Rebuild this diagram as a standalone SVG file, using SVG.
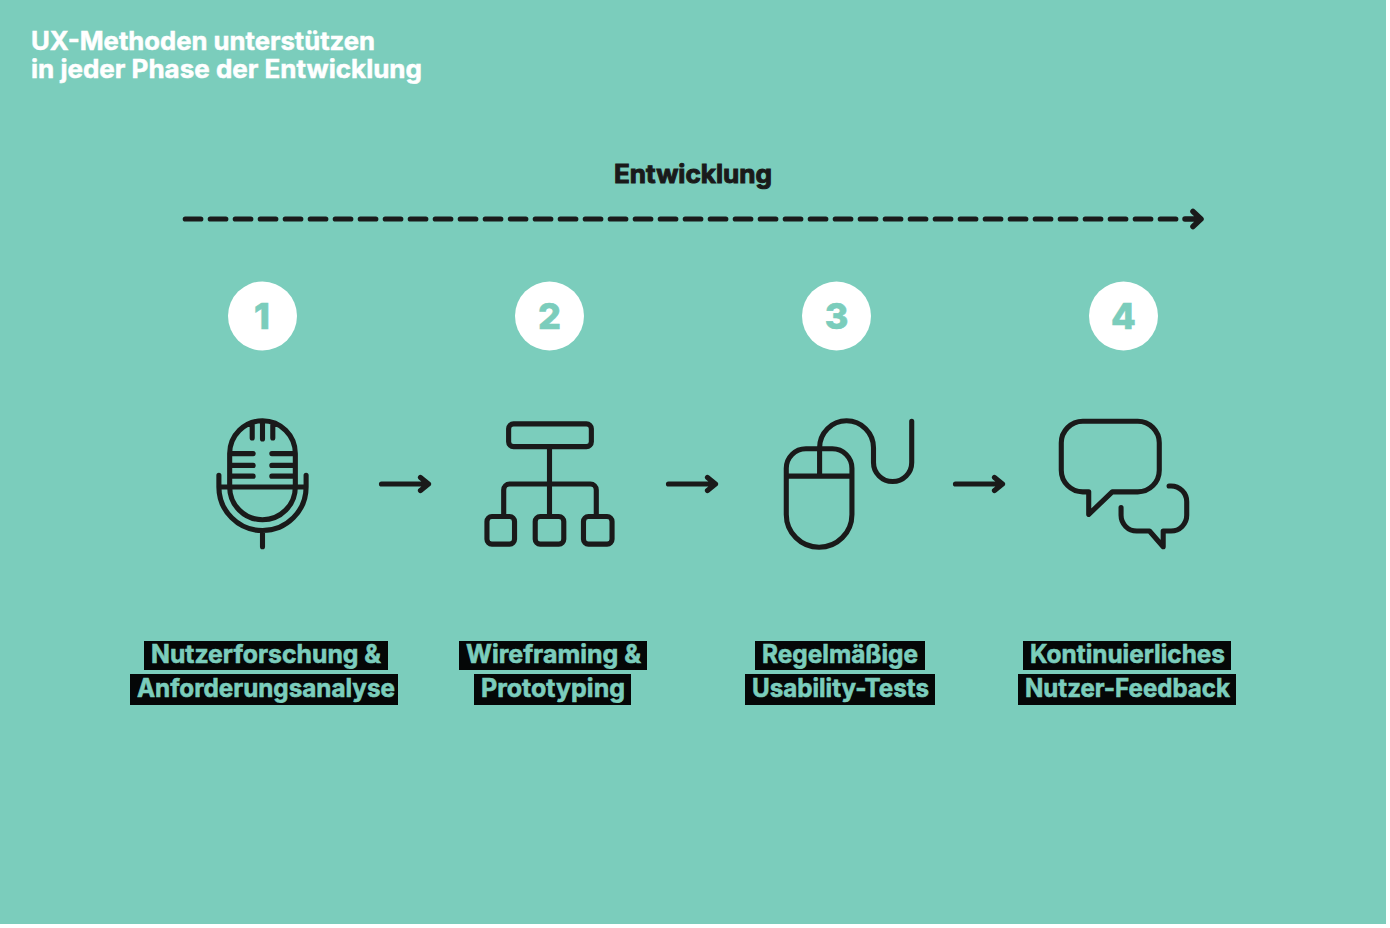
<svg xmlns="http://www.w3.org/2000/svg" width="1390" height="928" viewBox="0 0 1390 928">
<style>
text{font-family:Inter,"Liberation Sans",sans-serif;font-weight:700}
.title{font-size:25px;fill:#fff;stroke:#fff;stroke-width:.5px}
.head{font-size:25px;fill:#1a1a1a;stroke:#1a1a1a;stroke-width:1px;text-anchor:middle}
.num{font-size:36px;fill:#7bcdbc;text-anchor:middle;font-weight:800;stroke:#7bcdbc;stroke-width:.6px}
.lab{font-size:25px;fill:#7bcdbc;text-anchor:middle;stroke:#7bcdbc;stroke-width:.6px}
.box{fill:#050707}
.ink{fill:none;stroke:#1a1a1a;stroke-width:5.200;stroke-linecap:round;stroke-linejoin:round}
.circ{fill:#fff}
</style>
<defs>
<g id="arrow"><path d="M0,0H45.500M39,-6.500L47,0L39,6.500"/></g>
</defs>
<rect width="1390" height="928" fill="#fff"/>
<rect width="1386" height="924" fill="#7bcdbc"/>
<g id="title"><text class="title" x="31" y="50" textLength="344" lengthAdjust="spacingAndGlyphs">UX-Methoden unterstützen</text><text class="title" x="31" y="78" textLength="391" lengthAdjust="spacingAndGlyphs">in jeder Phase der Entwicklung</text></g>
<g id="timeline"><text class="head" x="693" y="183" textLength="158" lengthAdjust="spacingAndGlyphs">Entwicklung</text></g>
<g id="connectors" class="ink">
<path d="M185.300,219H1180" stroke-dasharray="15.500 9.500"/>
<path d="M1185,219H1199M1193,211.500L1201,219L1193,226.500" style="stroke-width:5.500"/>
<use href="#arrow" x="381.500" y="484"/>
<use href="#arrow" x="668.500" y="484"/>
<use href="#arrow" x="955.500" y="484"/>
</g>
<g id="step1"><circle class="circ" cx="262.500" cy="316" r="34.500"/><text class="num" x="262" y="329">1</text>
<g class="ink" transform="translate(262.500,484) scale(.98) translate(-262.500,-484)"><path d="M229,487V453A33.500,33.500 0 0 1 296,453V487A33.500,33.500 0 0 1 229,487M218,475V487A44.500,44.500 0 0 0 307,487V475M218,487H307M262.500,532V548M252,424V437M262.500,422V438M273,424V437M229,453H253M229,465H253M229,476H253M272,453H296M272,465H296M272,476H296"/></g>
<rect class="box" x="144" y="641" width="244" height="29"/><rect class="box" x="130" y="674" width="268" height="31"/>
<text class="lab" x="266" y="663" textLength="230" lengthAdjust="spacingAndGlyphs">Nutzerforschung &amp;</text><text class="lab" x="266" y="697" textLength="258" lengthAdjust="spacingAndGlyphs">Anforderungsanalyse</text></g>
<g id="step2"><circle class="circ" cx="549.500" cy="316" r="34.500"/><text class="num" x="549.500" y="329">2</text>
<g class="ink" transform="translate(549.500,484) scale(.985) translate(-549.500,-484)"><rect x="508" y="423" width="84" height="23" rx="5"/><path d="M549.500,446V516M503,516V490A6,6 0 0 1 509,484H591A6,6 0 0 1 597,490V516"/><rect x="486" y="517" width="28" height="28" rx="5"/><rect x="535" y="517" width="29" height="28" rx="5"/><rect x="584" y="517" width="29" height="28" rx="5"/></g>
<rect class="box" x="459" y="641" width="188" height="29"/><rect class="box" x="474" y="674" width="157" height="31"/>
<text class="lab" x="553.500" y="663" textLength="175" lengthAdjust="spacingAndGlyphs">Wireframing &amp;</text><text class="lab" x="553" y="697" textLength="144" lengthAdjust="spacingAndGlyphs">Prototyping</text></g>
<g id="step3"><circle class="circ" cx="836.500" cy="316" r="34.500"/><text class="num" x="836.500" y="329">3</text>
<g class="ink" transform="translate(849,484) scale(.98) translate(-849,-484)"><path d="M785,476V468A20,20 0 0 1 805,448H832A20,20 0 0 1 852,468V515A33.500,33.500 0 0 1 785,515ZM785,476H852M819,476V447A27.500,27.500 0 0 1 874,447V462A19.500,19.500 0 0 0 913,462V420"/></g>
<rect class="box" x="755" y="641" width="170" height="29"/><rect class="box" x="745" y="674" width="190" height="31"/>
<text class="lab" x="840" y="663" textLength="156" lengthAdjust="spacingAndGlyphs">Regelmäßige</text><text class="lab" x="840.500" y="697" textLength="177" lengthAdjust="spacingAndGlyphs">Usability-Tests</text></g>
<g id="step4"><circle class="circ" cx="1123.500" cy="316" r="34.500"/><text class="num" x="1123.500" y="329">4</text>
<g class="ink" transform="translate(1124,484) scale(.98) translate(-1124,-484)"><path d="M1082,420H1138A22,22 0 0 1 1160,442V470A22,22 0 0 1 1138,492H1112L1088,515V492H1082A22,22 0 0 1 1060,470V442A22,22 0 0 1 1082,420ZM1170,486H1172A16,16 0 0 1 1188,502V516A16,16 0 0 1 1172,532H1164V548L1150,532H1137A16,16 0 0 1 1121,516V508"/></g>
<rect class="box" x="1023" y="641" width="208" height="29"/><rect class="box" x="1018" y="674" width="218" height="31"/>
<text class="lab" x="1127.500" y="663" textLength="195" lengthAdjust="spacingAndGlyphs">Kontinuierliches</text><text class="lab" x="1127.500" y="697" textLength="205" lengthAdjust="spacingAndGlyphs">Nutzer-Feedback</text></g>
</svg>
